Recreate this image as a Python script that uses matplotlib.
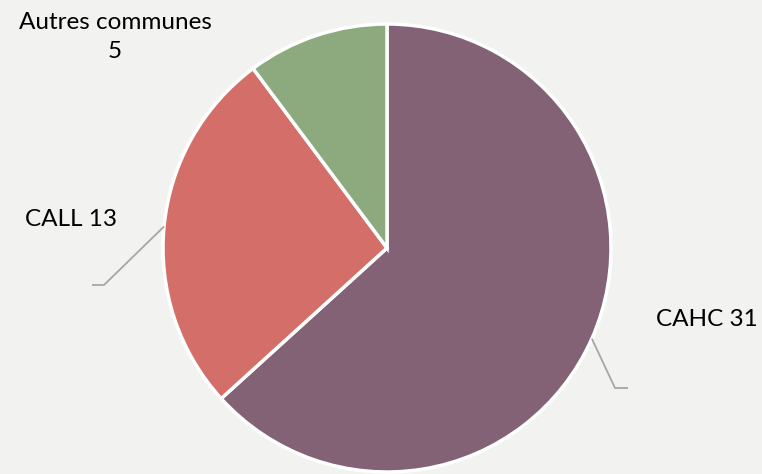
import numpy as np
import matplotlib.pyplot as plt

labels = ['CAHC', 'CALL', 'Autres communes']
values = [31, 13, 5]
colors = ['#836276', '#d46e69', '#8caa7e']

W, H = 762, 474
bg = '#f2f2f0'

fig = plt.figure(figsize=(W / 100, H / 100), dpi=100, facecolor=bg)
ax = fig.add_axes([0, 0, 1, 1])
ax.set_facecolor(bg)

cx, cy, r = 387, H - 248, 224
wedges, _ = ax.pie(values, colors=colors, startangle=90, counterclock=False,
                   center=(cx, cy), radius=r, frame=True,
                   wedgeprops=dict(edgecolor='white', linewidth=2.5))
ax.set_xlim(0, W)
ax.set_ylim(0, H)
ax.set_aspect('equal')
ax.axis('off')

font = dict(family=['Lato', 'DejaVu Sans'], fontsize=17.5, color='black')

# leader lines from the wedge mid-angle out to the label
def leader(w, elbow, end):
    ang = np.deg2rad((w.theta1 + w.theta2) / 2)
    x0, y0 = cx + r * np.cos(ang), cy + r * np.sin(ang)
    ax.plot([x0, elbow[0], end[0]], [y0, elbow[1], end[1]],
            color='#a6a6a6', lw=1.3, solid_capstyle='butt')

leader(wedges[0], (615, H - 388), (628, H - 388))
leader(wedges[1], (104, H - 285), (92, H - 285))

ax.text(707, H - 320, f'{labels[0]} {values[0]}', ha='center', va='center', **font)
ax.text(71, H - 219, f'{labels[1]} {values[1]}', ha='center', va='center', **font)
ax.text(115, H - 37, f'{labels[2]}\n{values[2]}', ha='center', va='center',
        linespacing=1.45, **font)

fig.savefig('out.png', dpi=100, facecolor=bg)
